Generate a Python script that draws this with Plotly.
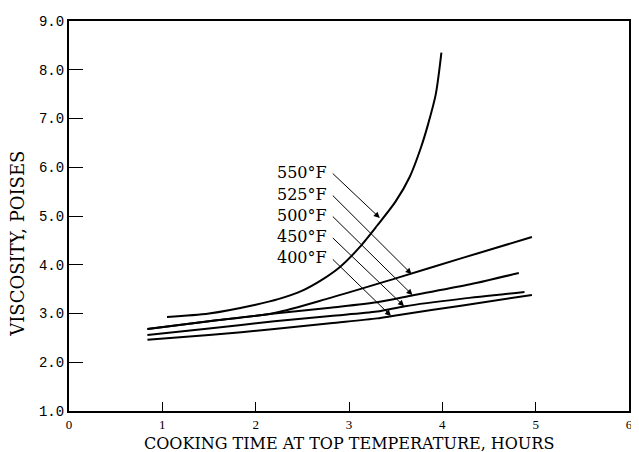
import plotly.graph_objects as go

# ---- data ----
t_550 = [1.05, 1.5, 2.0, 2.25, 2.5, 2.7, 2.9, 3.1, 3.3, 3.5, 3.65, 3.77, 3.85, 3.93, 3.99]
v_550 = [2.93, 3.0, 3.18, 3.3, 3.47, 3.68, 3.95, 4.33, 4.8, 5.3, 5.8, 6.4, 6.9, 7.5, 8.35]

t_525 = [0.84, 1.5, 2.2, 2.8, 3.5, 4.2, 4.96]
v_525 = [2.68, 2.84, 3.01, 3.32, 3.72, 4.13, 4.57]

t_500 = [0.84, 1.5, 2.2, 2.8, 3.3, 3.7, 4.3, 4.82]
v_500 = [2.68, 2.84, 3.0, 3.12, 3.23, 3.38, 3.6, 3.83]

t_450 = [0.84, 1.5, 2.2, 2.8, 3.3, 3.6, 4.2, 4.88]
v_450 = [2.56, 2.69, 2.84, 2.95, 3.04, 3.15, 3.3, 3.44]

t_400 = [0.84, 1.5, 2.2, 2.8, 3.3, 3.5, 4.2, 4.96]
v_400 = [2.46, 2.56, 2.68, 2.8, 2.9, 2.96, 3.16, 3.38]

labels = ["550°F", "525°F", "500°F", "450°F", "400°F"]
label_t = [2.81, 2.81, 2.81, 2.81, 2.81]
label_v = [5.90, 5.45, 5.02, 4.58, 4.14]
arrow_t = [3.33, 3.67, 3.68, 3.59, 3.45]
arrow_v = [4.96, 3.81, 3.38, 3.15, 2.95]

x_ticks = [0, 1, 2, 3, 4, 5, 6]
y_ticks = [1, 2, 3, 4, 5, 6, 7, 8, 9]
y_ticklabels = ["1.0", "2.0", "3.0", "4.0", "5.0", "6.0", "7.0", "8.0", "9.0"]

fig = go.Figure()
for t, v in [(t_550, v_550), (t_525, v_525), (t_500, v_500), (t_450, v_450), (t_400, v_400)]:
    fig.add_trace(go.Scatter(x=t, y=v, mode="lines", line=dict(color="black", width=2, shape="spline", smoothing=0.8),
                             showlegend=False, hoverinfo="skip"))

serif = "DejaVu Serif"
for lab, lt, lv, at, av in zip(labels, label_t, label_v, arrow_t, arrow_v):
    fig.add_annotation(x=lt - 0.02, y=lv, xref="x", yref="y", text=lab, showarrow=False,
                       xanchor="right", yanchor="middle", font=dict(family=serif, size=16, color="black"))
    fig.add_annotation(x=at, y=av, ax=lt, ay=lv, xref="x", yref="y", axref="x", ayref="y",
                       text="", showarrow=True, arrowhead=2, arrowsize=1.2, arrowwidth=1, arrowcolor="black",
                       standoff=0, startstandoff=0)

fig.add_annotation(x=0.5, y=-0.083, xref="paper", yref="paper", text="COOKING TIME AT TOP TEMPERATURE, HOURS",
                   showarrow=False, xanchor="center", yanchor="middle", font=dict(family=serif, size=16, color="black"))
fig.add_annotation(x=-0.092, y=0.43, xref="paper", yref="paper", text="VISCOSITY, POISES", textangle=-90,
                   showarrow=False, xanchor="center", yanchor="middle", font=dict(family=serif, size=18, color="black"))

fig.update_xaxes(range=[0, 6], tickvals=x_ticks, ticks="inside", ticklen=9, tickwidth=1, tickcolor="black",
                 showline=True, linecolor="black", linewidth=2, mirror=True, showgrid=False, zeroline=False,
                 tickfont=dict(family="Liberation Serif", size=13, color="black"))
fig.update_yaxes(range=[1, 9], tickvals=y_ticks, ticktext=y_ticklabels, ticks="inside", ticklen=14, tickwidth=1,
                 tickcolor="black", showline=True, linecolor="black", linewidth=2, mirror=True, showgrid=False,
                 zeroline=False, tickfont=dict(family="Liberation Mono", size=14, color="black"))

fig.update_layout(width=631, height=444, margin=dict(l=61, r=6, t=13, b=41),
                  plot_bgcolor="white", paper_bgcolor="white")
fig.write_html("out.html")
